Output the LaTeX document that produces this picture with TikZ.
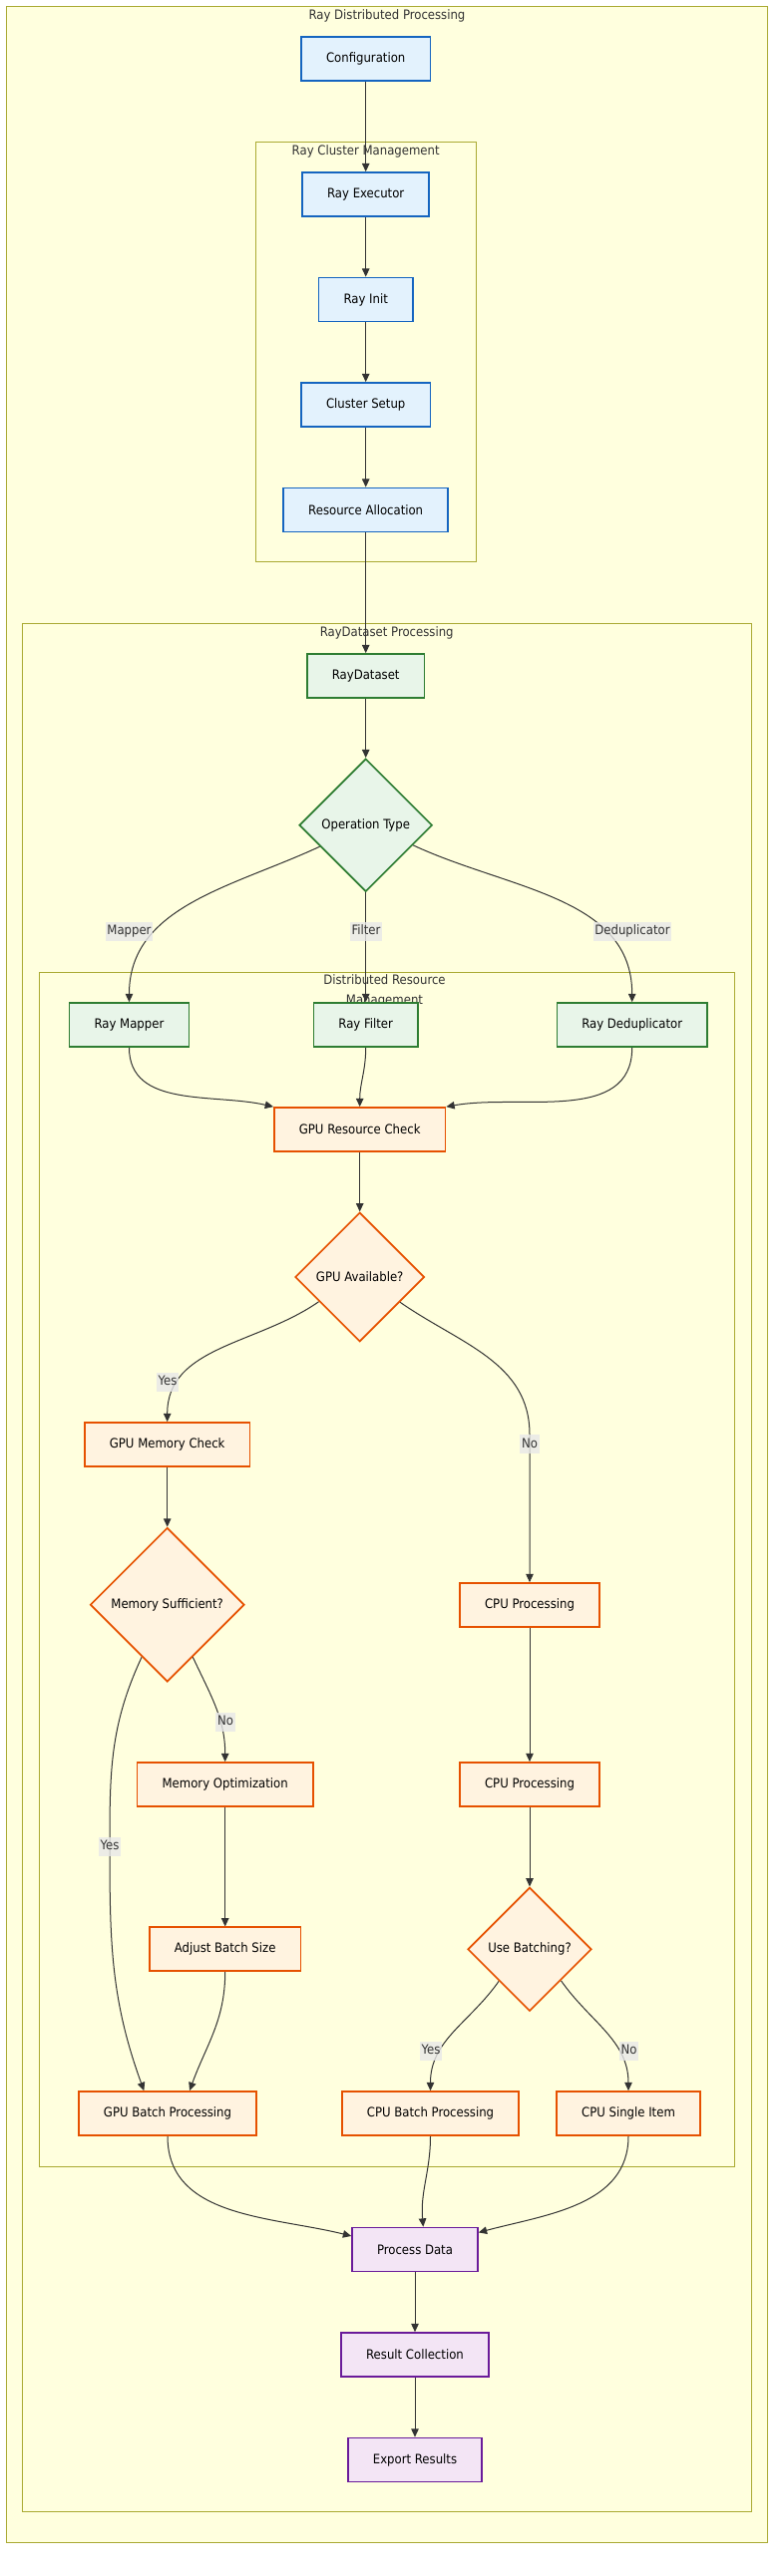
\documentclass[tikz,border=0pt]{standalone}
\usepackage{fontspec}
\setmainfont{DejaVu Sans Condensed}
\usepackage{tikz}
\usetikzlibrary{shapes.geometric, arrows.meta}
\usetikzlibrary{positioning}

\definecolor{grpfill}{HTML}{FFFFDE}
\definecolor{grpdraw}{HTML}{AAAA33}
\definecolor{cfgfill}{HTML}{E3F2FD}
\definecolor{cfgdraw}{HTML}{1565C0}
\definecolor{dsfill}{HTML}{E8F5E9}
\definecolor{dsdraw}{HTML}{2E7D32}
\definecolor{resfill}{HTML}{FFF3E0}
\definecolor{resdraw}{HTML}{E65100}
\definecolor{outfill}{HTML}{F3E5F5}
\definecolor{outdraw}{HTML}{6A1B9A}
\definecolor{edgegray}{HTML}{333333}
\definecolor{lblfill}{HTML}{E8E8E8}

\pgfdeclarelayer{groups}
\pgfdeclarelayer{edges}
\pgfsetlayers{groups,edges,main}

\tikzset{
  txt/.style={font=\fontsize{7.8}{12}\selectfont},
  box/.style={txt, draw, rectangle, line width=1pt, minimum height=26.4pt, inner xsep=15pt, align=center},
  cfgbox/.style={box, fill=cfgfill, draw=cfgdraw},
  dsbox/.style={box, fill=dsfill, draw=dsdraw},
  resbox/.style={box, fill=resfill, draw=resdraw},
  outbox/.style={box, fill=outfill, draw=outdraw},
  decide/.style={txt, diamond, aspect=1, inner sep=0pt, line width=1pt, align=center},
  dsdec/.style={decide, fill=dsfill, draw=dsdraw},
  resdec/.style={decide, fill=resfill, draw=resdraw},
  group/.style={draw=grpdraw, fill=grpfill, line width=0.6pt},
  grouptitle/.style={txt, text=edgegray, align=center},
  elabel/.style={txt, text=edgegray, fill=lblfill, fill opacity=0.8, text opacity=1, inner xsep=1pt, inner ysep=1.8pt, text height=6pt, text depth=1.8pt},
  flow/.style={draw=edgegray, line width=0.6pt, -{Triangle[length=5pt,width=4.5pt]}}
}

\begin{document}
\begin{tikzpicture}[x=0.6pt, y=-0.6pt, node distance=63.3pt]
\useasboundingbox (0,0) rectangle (784,2584);

% groups
\begin{pgfonlayer}{groups}
\draw[group] (6,6.5) rectangle (769,2550);
\node[grouptitle] (tmain) at (388,15.5) {Ray Distributed Processing};
\draw[group] (256.5,142.7) rectangle (477.5,563.7);
\node[grouptitle] (tcluster) at (366.7,151.7) {Ray Cluster Management};
\draw[group] (22.5,625.3) rectangle (753.5,2519.3);
\node[grouptitle] (tdataset) at (387.7,634.7) {RayDataset Processing};
\draw[group] (39,975) rectangle (736.5,2173);
\node[grouptitle] (tresource) at (385.5,994) {Distributed Resource\\Management};
\end{pgfonlayer}

% nodes
\node[cfgbox] (cfg) at (366.7,59) {Configuration};
\node[cfgbox] (exe) at (366.7,195) {Ray Executor};
\node[cfgbox] (init) [below of=exe] {Ray Init};
\node[cfgbox] (setup) [below of=init] {Cluster Setup};
\node[cfgbox] (alloc) [below of=setup] {Resource Allocation};
\node[dsbox] (rds) at (366.7,678) {RayDataset};
\node[dsdec, minimum size=80pt] (op) at (366.7,827.7) {Operation Type};
\node[dsbox] (map) at (129.5,1028) {Ray Mapper};
\node[dsbox] (filt) at (366.7,1028) {Ray Filter};
\node[dsbox] (ded) at (633.7,1028) {Ray Deduplicator};
\node[resbox] (gpuchk) at (360.7,1133) {GPU Resource Check};
\node[resdec, minimum size=77.7pt] (gpuav) at (360.7,1281) {GPU Available?};
\node[resbox] (gmem) at (167.7,1449) {GPU Memory Check};
\node[resdec, minimum size=92.7pt] (msuff) at (167.7,1609.7) {Memory Sufficient?};
\node[resbox] (cpu1) at (531,1610) {CPU Processing};
\node[resbox] (mopt) at (225.7,1790) {Memory Optimization};
\node[resbox] (cpu2) at (531,1790) {CPU Processing};
\node[resbox] (adj) at (225.7,1955.3) {Adjust Batch Size};
\node[resdec, minimum size=74.4pt] (ubatch) at (531,1955.3) {Use Batching?};
\node[resbox] (gbatch) at (168,2120) {GPU Batch Processing};
\node[resbox] (cbatch) at (431.5,2120) {CPU Batch Processing};
\node[resbox] (csingle) at (630,2120) {CPU Single Item};
\node[outbox] (pdata) at (416,2256.5) {Process Data};
\node[outbox] (rcoll) [below of=pdata] {Result Collection};
\node[outbox] (export) [below of=rcoll] {Export Results};

% edge labels
\node[elabel] (lmap) at (129.5,934) {Mapper};
\node[elabel] (lfilt) at (367,934) {Filter};
\node[elabel] (lded) at (634,934) {Deduplicator};
\node[elabel] (lgyes) at (168,1386) {Yes};
\node[elabel] (lgno) at (531,1448.7) {No};
\node[elabel] (lmno) at (226,1727) {No};
\node[elabel] (lmyes) at (110,1852) {Yes};
\node[elabel] (lbyes) at (432,2057) {Yes};
\node[elabel] (lbno) at (630.5,2057) {No};

% connectors
\begin{pgfonlayer}{edges}
\draw[flow] (cfg) -- (exe);
\draw[flow] (exe) -- (init);
\draw[flow] (init) -- (setup);
\draw[flow] (setup) -- (alloc);
\draw[flow] (alloc) -- (rds);
\draw[flow] (rds) -- (op);
\draw[flow] (op.205) to[out=205, in=90] (map.north);
\draw[flow] (op.south) -- (filt.north);
\draw[flow] (op.337) to[out=-25, in=90] (ded.north);
\draw[flow] (map.south) to[out=-90, in=167] (gpuchk.north west);
\draw[flow] (filt.south) to[out=-90, in=90] (gpuchk.north);
\draw[flow] (ded.south) to[out=-90, in=10] (gpuchk.north east);
\draw[flow] (gpuchk) -- (gpuav);
\draw[flow] (gpuav.211) to[out=215, in=90] (gmem.north);
\draw[flow] (gpuav.328) to[out=-35, in=90] (lgno.north) -- (cpu1.north);
\draw[flow] (gmem) -- (msuff);
\draw[flow] (msuff.296) to[out=-65, in=90] (mopt.north);
\draw[flow] (msuff.244) to[out=245, in=90] (lmyes.center) to[out=-90, in=110] (gbatch.136);
\draw[flow] (mopt) -- (adj);
\draw[flow] (adj.south) to[out=-90, in=70] (gbatch.46);
\draw[flow] (cpu1) -- (cpu2);
\draw[flow] (cpu2) -- (ubatch);
\draw[flow] (ubatch.226) to[out=235, in=90] (cbatch.north);
\draw[flow] (ubatch.315) to[out=-55, in=90] (csingle.north);
\draw[flow] (gbatch.south) to[out=-90, in=166] (pdata.168);
\draw[flow] (cbatch.south) to[out=-90, in=95] (pdata.70);
\draw[flow] (csingle.south) to[out=-90, in=15] (pdata.15);
\draw[flow] (pdata) -- (rcoll);
\draw[flow] (rcoll) -- (export);
\end{pgfonlayer}
\end{tikzpicture}
\end{document}
